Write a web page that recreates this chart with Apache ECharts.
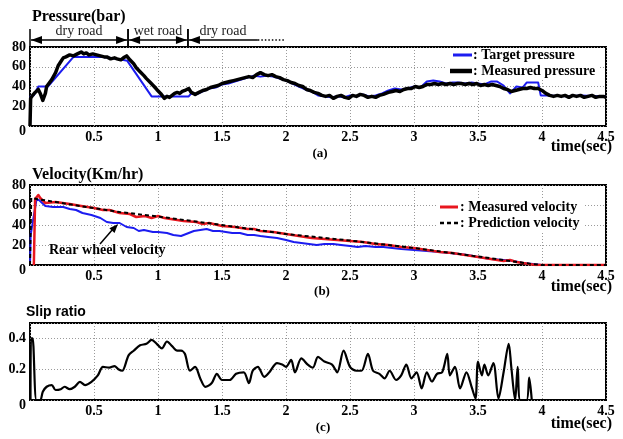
<!DOCTYPE html>
<html>
<head>
<meta charset="utf-8">
<script src="https://cdn.jsdelivr.net/npm/echarts@6/dist/echarts.min.js"></script>
<style>
  html, body { margin: 0; padding: 0; background: #fff; }
  #chart { width: 623px; height: 439px; }
</style>
</head>
<body>
<div id="chart"></div>
<script>
// ---- (a) brake pressure, bar: [time (s), value]
const targetPressure = [[0,0],[0.005,30],[0.03,31],[0.065,40],[0.14,40],[0.34,70],[0.55,70],[0.62,69],[0.72,67],[0.76,66],[0.95,30],[1.24,30],[1.26,33],[1.3,32],[1.35,35],[1.4,38],[1.45,39],[1.5,42],[1.55,43],[1.6,45],[1.65,47],[1.7,49],[1.75,51],[1.8,50],[1.85,51],[1.9,50],[1.95,48],[2.0,46],[2.05,43],[2.1,40],[2.15,37],[2.2,35],[2.25,31],[2.3,30],[2.35,29],[2.4,30],[2.45,29],[2.5,31],[2.55,30],[2.6,32],[2.65,30],[2.7,31],[2.75,33],[2.8,36],[2.85,38],[2.9,37],[2.95,38],[3.0,40],[3.05,39],[3.1,45],[3.15,46],[3.2,45],[3.25,43],[3.3,44],[3.35,44],[3.4,43],[3.45,44],[3.5,43],[3.55,42],[3.6,45],[3.65,45],[3.7,41],[3.75,33],[3.8,40],[3.85,39],[3.88,44],[3.97,44],[3.99,31],[4.05,31],[4.2,30],[4.3,31],[4.5,30]];
const measuredPressure = [[0,0],[0.005,28],[0.02,31],[0.04,34],[0.065,37],[0.08,33],[0.1,26],[0.12,33],[0.13,40],[0.17,47],[0.2,54],[0.22,61],[0.24,65],[0.26,69],[0.28,70],[0.31,72],[0.34,71],[0.37,73],[0.4,75],[0.42,73],[0.44,74],[0.46,72],[0.49,73],[0.52,72],[0.55,71],[0.58,70],[0.6,70],[0.63,68],[0.66,69],[0.68,68],[0.71,67],[0.73,69],[0.755,71],[0.78,67],[0.81,63],[0.83,59],[0.86,55],[0.89,51],[0.91,48],[0.94,44],[0.97,40],[0.99,37],[1.02,33],[1.05,28],[1.07,30],[1.09,29],[1.11,31],[1.13,33],[1.15,34],[1.17,33],[1.19,35],[1.21,36],[1.24,38],[1.26,34],[1.29,32],[1.32,34],[1.35,36],[1.38,37],[1.41,39],[1.44,40],[1.47,41],[1.5,43],[1.53,44],[1.56,45],[1.59,46],[1.62,47],[1.65,48],[1.68,49],[1.71,50],[1.74,49],[1.77,52],[1.8,54],[1.83,52],[1.86,51],[1.89,52],[1.92,50],[1.95,49],[1.98,47],[2.01,46],[2.04,44],[2.07,43],[2.1,41],[2.13,40],[2.16,37],[2.19,36],[2.22,34],[2.25,33],[2.28,31],[2.31,30],[2.34,31],[2.37,28],[2.4,30],[2.43,31],[2.46,29],[2.49,28],[2.52,31],[2.55,30],[2.58,32],[2.61,31],[2.64,29],[2.67,30],[2.7,29],[2.73,31],[2.76,32],[2.8,34],[2.83,35],[2.86,36],[2.89,35],[2.92,37],[2.95,38],[2.98,38],[3.01,40],[3.04,39],[3.07,40],[3.1,42],[3.13,42],[3.16,43],[3.19,42],[3.22,43],[3.25,42],[3.28,43],[3.31,42],[3.34,43],[3.37,43],[3.4,42],[3.43,43],[3.46,42],[3.49,43],[3.52,41],[3.55,42],[3.58,41],[3.61,42],[3.64,41],[3.67,40],[3.7,38],[3.73,37],[3.76,35],[3.79,36],[3.82,37],[3.85,38],[3.88,38],[3.91,39],[3.94,38],[3.97,38],[4.0,36],[4.03,33],[4.06,31],[4.09,30],[4.12,31],[4.15,30],[4.18,31],[4.21,29],[4.24,31],[4.27,30],[4.3,31],[4.33,29],[4.36,30],[4.39,31],[4.42,29],[4.45,30],[4.48,30],[4.5,29]];

// ---- (b) velocity, km/h
const rearWheelVelocity = [[0,0],[0.005,30],[0.01,30],[0.05,65],[0.07,65],[0.12,59],[0.18,58],[0.26,58],[0.31,56],[0.36,55],[0.41,52],[0.48,50],[0.55,47],[0.6,43],[0.65,42],[0.68,42],[0.7,42],[0.755,38],[0.81,37],[0.85,34],[0.89,35],[0.96,33],[1.0,33],[1.07,32],[1.12,30],[1.18,29],[1.22,31],[1.28,34],[1.33,35],[1.38,36],[1.43,34],[1.48,34],[1.53,33],[1.58,32],[1.64,32],[1.7,30],[1.75,30],[1.8,29],[1.86,28],[1.93,27],[2.0,25],[2.06,23],[2.12,22],[2.18,21],[2.24,20],[2.3,21],[2.37,21],[2.43,20],[2.5,19],[2.56,18],[2.62,19],[2.7,18],[2.76,18],[2.83,17],[2.9,16],[3.0,15],[3.1,14],[3.2,13],[3.28,12],[3.35,11],[3.42,10],[3.5,8],[3.6,6],[3.7,5],[3.78,4],[3.85,2],[3.93,1],[4.0,0],[4.5,0]];
const measuredVelocity = [[0.03,0],[0.04,66],[0.065,70],[0.08,67],[0.12,62],[0.2,63],[0.31,61],[0.4,59],[0.5,57],[0.57,55],[0.62,55],[0.7,52],[0.78,51],[0.83,48],[0.9,49],[0.95,47],[1.0,49],[1.05,47],[1.1,46],[1.2,44],[1.3,43],[1.35,41],[1.4,42],[1.5,39],[1.6,38],[1.7,36],[1.75,36],[1.8,34],[1.9,33],[2.0,31],[2.1,29],[2.2,27],[2.3,26],[2.4,25],[2.5,24],[2.6,23],[2.7,21],[2.8,20],[2.9,18],[3.0,17],[3.1,15],[3.2,13],[3.3,12],[3.4,10],[3.5,8],[3.6,6],[3.65,5],[3.7,4],[3.75,5],[3.8,3],[3.9,1],[3.95,0],[4.5,0]];
const predictionVelocity = [[0,0],[0.01,67],[0.1,65],[0.2,63],[0.44,58],[0.7,53],[1.0,48.5],[1.5,40],[2.0,31],[2.5,24.5],[3.0,17],[3.5,8.5],[3.92,1],[4.0,0],[4.5,0]];

// ---- (c) slip ratio
const slipRatio = [[0.004,0],[0.008,0.4],[0.02,0.4],[0.05,0],[0.08,0],[0.1,0.054],[0.13,0.086],[0.17,0.097],[0.2,0.065],[0.24,0.07],[0.27,0.086],[0.31,0.07],[0.35,0.086],[0.39,0.118],[0.43,0.097],[0.48,0.118],[0.53,0.16],[0.57,0.215],[0.62,0.21],[0.66,0.22],[0.69,0.2],[0.72,0.19],[0.77,0.29],[0.81,0.32],[0.86,0.355],[0.91,0.365],[0.95,0.39],[0.99,0.365],[1.03,0.335],[1.07,0.38],[1.11,0.35],[1.15,0.32],[1.18,0.32],[1.21,0.30],[1.25,0.19],[1.29,0.215],[1.33,0.14],[1.37,0.085],[1.42,0.11],[1.46,0.17],[1.5,0.13],[1.56,0.13],[1.61,0.17],[1.67,0.18],[1.71,0.11],[1.74,0.19],[1.78,0.215],[1.83,0.15],[1.87,0.18],[1.93,0.24],[1.97,0.23],[2.0,0.215],[2.04,0.26],[2.07,0.18],[2.12,0.27],[2.17,0.23],[2.21,0.21],[2.25,0.28],[2.3,0.25],[2.36,0.23],[2.4,0.18],[2.45,0.32],[2.5,0.215],[2.55,0.19],[2.59,0.19],[2.64,0.30],[2.68,0.19],[2.73,0.17],[2.77,0.14],[2.81,0.19],[2.86,0.13],[2.9,0.16],[2.94,0.23],[2.98,0.14],[3.02,0.18],[3.06,0.075],[3.1,0.18],[3.14,0.12],[3.18,0.17],[3.22,0.18],[3.26,0.30],[3.28,0.16],[3.32,0.215],[3.36,0.075],[3.41,0.18],[3.45,0.085],[3.48,0.01],[3.5,0.25],[3.53,0.16],[3.55,0.23],[3.58,0.16],[3.62,0.24],[3.66,0.01],[3.7,0.18],[3.74,0.365],[3.76,0.215],[3.79,0],[3.81,0.215],[3.83,0],[3.88,0],[3.9,0.145],[3.92,0]];

// ---- axis ranges and road segments
const timeMax = 4.5, timeStep = 0.5;
const pressureMax = 80, velocityMax = 80, kmStep = 20;
const slipMax = 0.5, slipStep = 0.2;
const roadSegments = [
  { label: 'dry road', from: 0, to: 0.766 },
  { label: 'wet road', from: 0.766, to: 1.234 },
  { label: 'dry road', from: 1.234, to: 1.78, open: 1.99 }
];

const SERIF = "'Liberation Serif', 'Times New Roman', serif";
const SANS = "'Liberation Sans', Arial, sans-serif";
const GRID_L = 30, GRID_W = 576;
const grids = [
  { left: GRID_L, top: 47, width: GRID_W, height: 79 },
  { left: GRID_L, top: 185, width: GRID_W, height: 80 },
  { left: GRID_L, top: 323, width: GRID_W, height: 77 }
];

const labelFont = { fontFamily: SERIF, fontWeight: 'bold', fontSize: 14, color: '#000' };
const gridLine = { show: true, lineStyle: { color: '#9a9a9a', type: [1, 2], width: 1 } };

function xAxisFor(i) {
  return {
    type: 'value', gridIndex: i, min: 0, max: timeMax, interval: timeStep,
    axisLine: { show: false }, axisTick: { show: false },
    splitLine: gridLine,
    axisLabel: Object.assign({}, labelFont, { margin: 4,
      formatter: v => (v === 0 ? '' : String(v)) })
  };
}
function yAxisFor(i, max, step, digits) {
  return {
    type: 'value', gridIndex: i, min: 0, max: max, interval: step,
    axisLine: { show: false }, axisTick: { show: false },
    splitLine: gridLine,
    axisLabel: Object.assign({}, labelFont, { margin: 4,
      formatter: v => {
        if (v > max - step / 2 && Math.abs(v / step - Math.round(v / step)) > 1e-6) return '';
        if (v === 0) return '{z|0}';
        return v.toFixed(digits);
      },
      rich: { z: { fontFamily: SERIF, fontWeight: 'bold', fontSize: 14, padding: [10, 0, 0, 0] } }
    })
  };
}

function lineSeries(data, xi, color, width, type, z, smooth) {
  return {
    type: 'line', xAxisIndex: xi, yAxisIndex: xi, data: data,
    symbol: 'none', silent: true, z: z, smooth: smooth || false,
    lineStyle: { color: color, width: width, type: type || 'solid', join: 'round' }
  };
}

const chart = echarts.init(document.getElementById('chart'), null, { renderer: 'canvas' });
chart.setOption({
  animation: false,
  backgroundColor: '#fff',
  grid: grids.map(g => Object.assign({ show: true, borderColor: '#000', borderWidth: 2, backgroundColor: 'transparent' }, g)),
  xAxis: [xAxisFor(0), xAxisFor(1), xAxisFor(2)],
  yAxis: [yAxisFor(0, pressureMax, kmStep, 0), yAxisFor(1, velocityMax, kmStep, 0), yAxisFor(2, slipMax, slipStep, 1)],
  series: [
    lineSeries(targetPressure, 0, '#1c1cf0', 2, 'solid', 2),
    lineSeries(measuredPressure, 0, '#000', 3.5, 'solid', 3),
    lineSeries(rearWheelVelocity, 1, '#1c1cf0', 2, 'solid', 2),
    lineSeries(measuredVelocity, 1, '#e8161e', 2.5, 'solid', 3),
    lineSeries(predictionVelocity, 1, '#000', 2, [4, 3], 4),
    lineSeries(slipRatio, 2, '#000', 2.2, 'solid', 3, 0.3)
  ]
});

// ---- annotations and legends
function text(x, y, str, opts) {
  return {
    type: 'text', x: x, y: y, z: 100,
    style: Object.assign({ text: str, fill: '#000', font: 'bold 14px ' + SERIF, textAlign: 'left', textVerticalAlign: 'middle' }, opts || {})
  };
}
function seg(x1, y1, x2, y2, w, dash) {
  return { type: 'line', z: 100, shape: { x1, y1, x2, y2 }, style: { stroke: '#000', lineWidth: w || 1.5, lineDash: dash || null } };
}
function arrowHead(tipX, tipY, dir, len, half) {
  // dir: unit vector pointing towards the tip
  const bx = tipX - dir[0] * len, by = tipY - dir[1] * len;
  const nx = -dir[1] * half, ny = dir[0] * half;
  return { type: 'polygon', z: 100, shape: { points: [[tipX, tipY], [bx + nx, by + ny], [bx - nx, by - ny]] }, style: { fill: '#000' } };
}

const px = t => chart.convertToPixel({ xAxisIndex: 0 }, t);
const gfx = [];

// panel titles, axis names, captions
gfx.push(text(32, 17, 'Pressure(bar)', { font: 'bold 16px ' + SERIF }));
gfx.push(text(32, 175, 'Velocity(Km/hr)', { font: 'bold 16px ' + SERIF }));
gfx.push(text(26, 312, 'Slip ratio', { font: 'bold 14px ' + SANS }));
[147, 287, 424].forEach(y => {
  gfx.push(text(612, y, 'time(sec)', { font: 'bold 16px ' + SERIF, textAlign: 'right' }));
});
gfx.push(text(320, 154, '(a)', { font: 'bold 13px ' + SERIF, textAlign: 'center' }));
gfx.push(text(322, 292, '(b)', { font: 'bold 13px ' + SERIF, textAlign: 'center' }));
gfx.push(text(323, 428, '(c)', { font: 'bold 13px ' + SERIF, textAlign: 'center' }));

// road condition bar above panel (a)
const roadY = 40;
roadSegments.forEach(s => {
  const x0 = px(s.from), x1 = px(s.to);
  gfx.push(seg(x0, 29, x0, 46, 1.5));
  gfx.push(arrowHead(x0 + 1, roadY, [-1, 0], 11, 4));
  if (s.open) {
    gfx.push(seg(x0 + 1, roadY, x1, roadY, 1.5));
    gfx.push(seg(x1, roadY, px(s.open), roadY, 1.5, [1.5, 2]));
  } else {
    gfx.push(seg(x0 + 1, roadY, x1 - 1, roadY, 1.5));
    gfx.push(arrowHead(x1 - 1, roadY, [1, 0], 11, 4));
    gfx.push(seg(x1, 29, x1, 46, 1.5));
  }
  gfx.push(text((x0 + x1) / 2, 31, s.label, { font: '14px ' + SERIF, textAlign: 'center', fill: '#222' }));
});

// legend of panel (a)
gfx.push({ type: 'rect', z: 90, shape: { x: 447, y: 49, width: 152, height: 31 }, style: { fill: '#fff' } });
gfx.push({ type: 'line', z: 100, shape: { x1: 453, y1: 55, x2: 472, y2: 55 }, style: { stroke: '#1c1cf0', lineWidth: 3 } });
gfx.push(text(473, 55, ': Target pressure'));
gfx.push({ type: 'line', z: 100, shape: { x1: 450, y1: 71, x2: 472, y2: 71 }, style: { stroke: '#000', lineWidth: 4.5 } });
gfx.push(text(473, 71, ': Measured pressure'));

// legend of panel (b)
gfx.push({ type: 'rect', z: 90, shape: { x: 437, y: 198, width: 148, height: 33 }, style: { fill: '#fff' } });
gfx.push({ type: 'line', z: 100, shape: { x1: 440, y1: 207, x2: 458, y2: 207 }, style: { stroke: '#e8161e', lineWidth: 3 } });
gfx.push(text(460, 207, ': Measured velocity'));
gfx.push({ type: 'line', z: 100, shape: { x1: 440, y1: 223, x2: 458, y2: 223 }, style: { stroke: '#000', lineWidth: 2.5, lineDash: [4, 3] } });
gfx.push(text(460, 223, ': Prediction velocity'));

// pointer to the rear wheel curve
gfx.push(text(49, 250, 'Rear wheel velocity'));
gfx.push(seg(100, 244, 113, 229, 1.5));
gfx.push(arrowHead(118, 224, [0.67, -0.74], 9, 3.5));

chart.setOption({ graphic: { elements: gfx } });
</script>
</body>
</html>
